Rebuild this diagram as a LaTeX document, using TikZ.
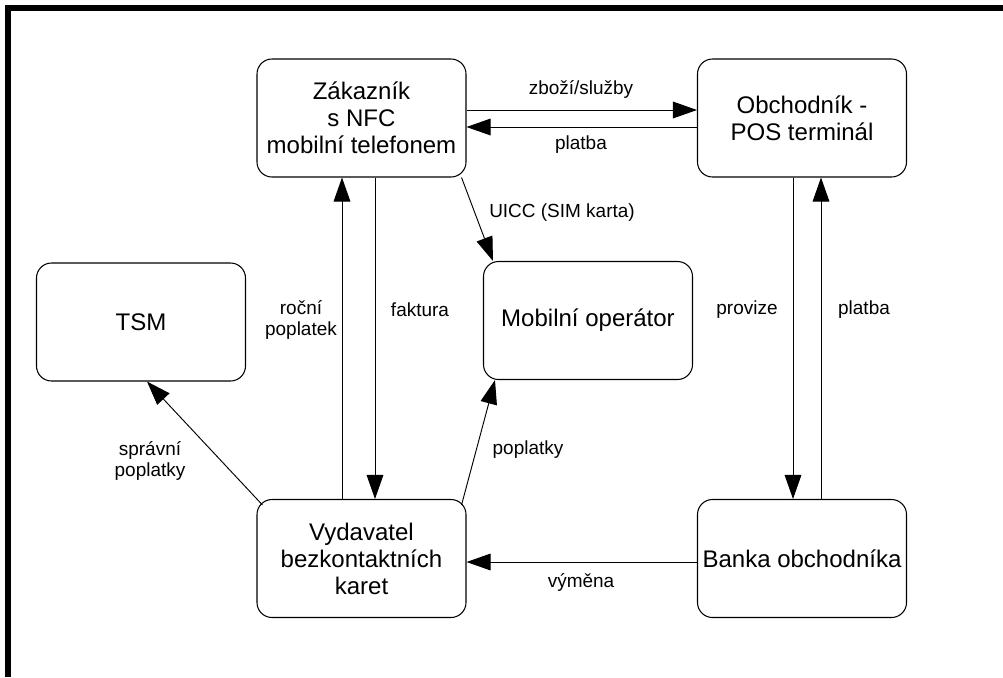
\documentclass[tikz,border=0pt]{standalone}
\usepackage{fontspec}
\setmainfont{Liberation Sans}
\usetikzlibrary{arrows.meta}
\begin{document}
\begin{tikzpicture}[box/.style = {draw, line width=0.9pt, rectangle, rounded corners=0.45cm, minimum width=6.27cm, minimum height=3.54cm, inner sep=0, align=center, font=\fontsize{20.5}{23}\selectfont}, note/.style = {inner sep=0, align=center, font=\fontsize{16.2}{17.5}\selectfont}, >={Triangle[length=0.72cm, width=0.5cm]}, every path/.style = {line width=0.8pt}]
  \useasboundingbox (0, 0) rectangle (30.09, -20.31);
  \draw[line width=0.18cm] (0.24, -20.31) -- (0.24, -0.24) -- (30.09, -0.24);
  \node[box] at (10.845, -3.54) (zakaznik) {Zákazník\\s NFC\\mobilní telefonem};
  \node[box] at (24.06, -3.54) (obchodnik) {Obchodník -\\POS terminál};
  \node[box] at (17.64, -9.615) (operator) {Mobilní operátor};
  \node[box] at (4.23, -9.66) (tsm) {TSM};
  \node[box] at (10.845, -16.755) (vydavatel) {Vydavatel\\bezkontaktních\\karet};
  \node[box] at (24.06, -16.755) (banka) {Banka obchodníka};
  \draw[->] ([yshift=0.24cm]zakaznik.east) -- ([yshift=0.24cm]obchodnik.west);
  \draw[->] ([yshift=-0.27cm]obchodnik.west) -- ([yshift=-0.27cm]zakaznik.east);
  \draw[->] ([xshift=-0.15cm]zakaznik.south east) -- ([xshift=0.3cm]operator.north west);
  \draw[->] ([xshift=-0.585cm]vydavatel.north) -- ([xshift=-0.585cm]zakaznik.south);
  \draw[->] ([xshift=0.405cm]zakaznik.south) -- ([xshift=0.405cm]vydavatel.north);
  \draw[->] ([xshift=0.18cm, yshift=-0.18cm]vydavatel.north west) -- ([xshift=0.18cm]tsm.south);
  \draw[->] ([xshift=-0.15cm, yshift=-0.18cm]vydavatel.north east) -- ([xshift=0.36cm]operator.south west);
  \draw[->] ([xshift=-0.27cm]obchodnik.south) -- ([xshift=-0.27cm]banka.north);
  \draw[->] ([xshift=0.57cm]banka.north) -- ([xshift=0.57cm]obchodnik.south);
  \draw[->] ([yshift=-0.105cm]banka.west) -- ([yshift=-0.105cm]vydavatel.east);
  \node[note] at (17.43, -2.67) (zbozi) {zboží/služby};
  \node[note] at (17.43, -4.35) (platba1) {platba};
  \node[note] at (16.86, -6.39) (uicc) {UICC (SIM karta)};
  \node[note] at (9.03, -9.6) (rocni) {roční\\poplatek};
  \node[note] at (12.6, -9.3) (faktura) {faktura};
  \node[note] at (4.5, -13.83) (spravni) {správní\\poplatky};
  \node[note] at (15.84, -13.5) (poplatky) {poplatky};
  \node[note] at (17.43, -17.46) (vymena) {výměna};
  \node[note] at (22.41, -9.3) (provize) {provize};
  \node[note] at (25.92, -9.3) (platba2) {platba};
\end{tikzpicture}
\end{document}
